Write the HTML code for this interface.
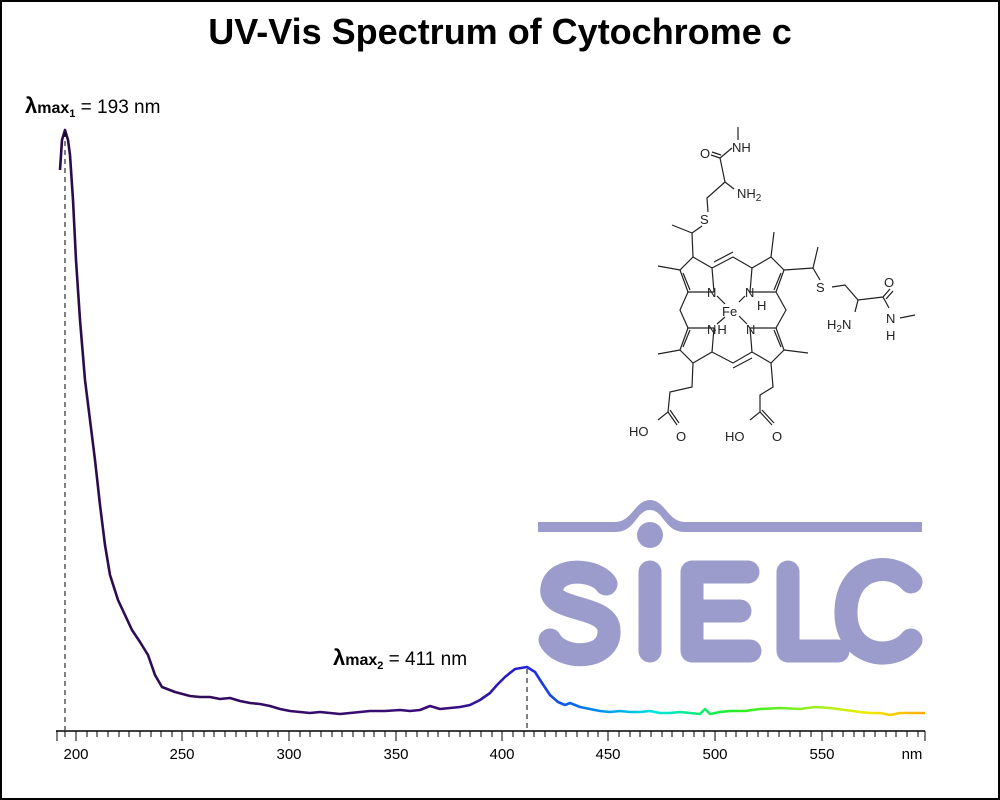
<!DOCTYPE html>
<html><head><meta charset="utf-8"><style>
html,body{margin:0;padding:0;background:#fff;}
svg{display:block;}
</style></head><body>
<svg width="1000" height="800" viewBox="0 0 1000 800" xmlns="http://www.w3.org/2000/svg" font-family="Liberation Sans, sans-serif">
<rect x="1" y="1" width="998" height="798" fill="#fff" stroke="#000" stroke-width="2"/>
<text x="500" y="44" text-anchor="middle" font-size="36" font-weight="bold">UV-Vis Spectrum of Cytochrome c</text>

<g fill="#9b9bcc">
<path d="M538,522 L615,522 C632,522 635,500 650,500 C665,500 668,522 685,522 L922,522 L922,532 L685,532 C664,532 664,510 650,510 C636,510 636,532 615,532 L538,532 Z"/>
<circle cx="650" cy="535" r="13"/>
</g>
<g fill="none" stroke="#9b9bcc" stroke-width="23" stroke-linecap="round" stroke-linejoin="round">
<path d="M606,584 C596,569 556,566 552,588 C547,612 608,604 609,630 C611,661 561,661 550,640"/>
<line x1="650" y1="572" x2="650" y2="651"/>
<path d="M748,572 L692,572 L692,651 L750,651 M692,611 L740,611"/>
<path d="M788,572 L788,651 L838,651"/>
<path d="M911,582 C893,561 848,564 846,610 C844,657 893,663 911,640"/>
</g>

<g stroke="#222" stroke-width="1.2" fill="none">
<polyline points="714,292 712,268 693,257 680,270 688,292 714,292"/>
<line x1="683" y1="273" x2="690" y2="290"/>
<polyline points="750,292 752,268 771,257 784,270 776,292 750,292"/>
<line x1="781" y1="273" x2="774" y2="290"/>
<polyline points="714,328 712,352 693,363 680,350 688,328 714,328"/>
<line x1="683" y1="347" x2="690" y2="330"/>
<polyline points="750,328 752,352 771,363 784,350 776,328 750,328"/>
<line x1="781" y1="347" x2="774" y2="330"/>
<polyline points="712,268 733,257 752,268"/>
<polyline points="712,352 733,363 752,352"/>
<polyline points="688,292 680,310 688,328"/>
<polyline points="776,292 786,310 776,328"/>
<line x1="714" y1="262" x2="733" y2="252"/>
<line x1="733" y1="368" x2="752" y2="358"/>
<line x1="717" y1="296" x2="725" y2="304"/>
<line x1="745" y1="296" x2="739" y2="302"/>
<line x1="717" y1="324" x2="725" y2="317"/>
<line x1="747" y1="324" x2="739" y2="316"/>
<polyline points="693,257 692,233 672,225"/>
<line x1="692" y1="233" x2="702" y2="226"/>
<polyline points="708,212 707,198 725,182 720,158"/>
<line x1="725" y1="182" x2="734" y2="189"/>
<line x1="720" y1="158" x2="711" y2="155"/>
<line x1="721" y1="155" x2="712" y2="152"/>
<line x1="720" y1="158" x2="732" y2="148"/>
<line x1="738" y1="127" x2="738" y2="140"/>
<line x1="680" y1="270" x2="658" y2="266"/>
<line x1="771" y1="257" x2="774" y2="232"/>
<polyline points="784,270 813,268 818,247"/>
<line x1="813" y1="268" x2="820" y2="280"/>
<polyline points="832,287 845,285 858,300 883,297 890,289"/>
<line x1="886" y1="299" x2="893" y2="291"/>
<line x1="858" y1="300" x2="855" y2="312"/>
<line x1="883" y1="297" x2="889" y2="308"/>
<line x1="900" y1="318" x2="915" y2="315"/>
<line x1="680" y1="350" x2="658" y2="354"/>
<polyline points="693,363 692,387 670,392 668,412 658,420"/>
<line x1="668" y1="412" x2="677" y2="425"/>
<line x1="670" y1="410" x2="679" y2="423"/>
<line x1="784" y1="350" x2="808" y2="353"/>
<polyline points="771,363 773,387 760,395 760,412 750,420"/>
<line x1="760" y1="412" x2="772" y2="425"/>
<line x1="762" y1="410" x2="774" y2="423"/>
</g>
<g font-size="13" fill="#222">
<text x="700" y="224">S</text>
<text x="816" y="292">S</text>
<text x="732" y="152">NH</text>
<text x="700" y="158">O</text>
<text x="737" y="198">NH<tspan font-size="10" dy="3">2</tspan></text>
<text x="707" y="297">N</text>
<text x="745" y="297">N</text>
<text x="757" y="310">H</text>
<text x="722" y="316">Fe</text>
<text x="707" y="334">N</text>
<text x="713" y="334">·H</text>
<text x="746" y="334">N</text>
<text x="884" y="287">O</text>
<text x="827" y="329">H<tspan font-size="10" dy="3">2</tspan><tspan dy="-3">N</tspan></text>
<text x="886" y="323">N</text>
<text x="886" y="340">H</text>
<text x="629" y="436">HO</text>
<text x="676" y="441">O</text>
<text x="725" y="441">HO</text>
<text x="772" y="441">O</text>
</g>

<defs>
<linearGradient id="g" gradientUnits="userSpaceOnUse" x1="57" y1="0" x2="925" y2="0">
<stop offset="0" stop-color="#2b0b4a"/>
<stop offset="0.45" stop-color="#3a0c7a"/>
<stop offset="0.54" stop-color="#2222dd"/>
<stop offset="0.62" stop-color="#0088ee"/>
<stop offset="0.69" stop-color="#00e8dd"/>
<stop offset="0.78" stop-color="#22ee22"/>
<stop offset="0.87" stop-color="#99ee22"/>
<stop offset="0.93" stop-color="#eeee00"/>
<stop offset="1" stop-color="#ffaa00"/>
</linearGradient>
</defs>
<polyline fill="none" stroke="url(#g)" stroke-width="2.6" stroke-linejoin="round" points="60,170 62,140 65,130 68,140 70,155 73,200 76,260 80,320 85,380 90,420 95,460 100,505 105,545 110,575 118,600 125,615 132,630 140,642 148,655 155,675 162,687 175,692 190,696 200,697 210,697 220,699 230,698 240,701 250,703 260,704 270,706 280,709 290,711 300,712 310,713 320,712 330,713 340,714 350,713 360,712 370,711 385,711 400,710 410,711 420,710 430,706 440,709 450,708 460,707 470,705 480,700 490,693 497,685 505,677 515,669 527,667 535,672 542,683 550,695 558,702 565,705 570,703 580,707 590,709 600,711 610,712 620,711 630,712 640,712 650,711 660,713 670,713 680,712 690,713 700,714 705,709 710,714 720,712 730,711 745,711 760,709 780,708 800,709 815,707 830,708 845,710 860,712 870,713 880,713 890,715 900,713 925,713"/>

<line x1="65" y1="132" x2="65" y2="730" stroke="#000" stroke-width="1" stroke-dasharray="5,4"/>
<line x1="527" y1="669" x2="527" y2="730" stroke="#000" stroke-width="1" stroke-dasharray="5,4"/>

<line x1="56" y1="731" x2="925" y2="731" stroke="#000" stroke-width="1.5"/>
<g stroke="#000" stroke-width="1">
<line x1="57" y1="731" x2="57" y2="741"/>
<line x1="925" y1="731" x2="925" y2="741"/>
</g>
<g font-size="15" text-anchor="middle" fill="#000">
<text x="76" y="759">200</text>
<text x="182" y="759">250</text>
<text x="289" y="759">300</text>
<text x="396" y="759">350</text>
<text x="502" y="759">400</text>
<text x="608" y="759">450</text>
<text x="715" y="759">500</text>
<text x="822" y="759">550</text>
<text x="912" y="759">nm</text>
</g>
<g stroke="#000" stroke-width="1">
<line x1="65" y1="731" x2="65" y2="737"/><line x1="76" y1="731" x2="76" y2="741"/><line x1="87" y1="731" x2="87" y2="737"/><line x1="97" y1="731" x2="97" y2="737"/><line x1="108" y1="731" x2="108" y2="737"/><line x1="119" y1="731" x2="119" y2="737"/><line x1="129" y1="731" x2="129" y2="737"/><line x1="140" y1="731" x2="140" y2="737"/><line x1="151" y1="731" x2="151" y2="737"/><line x1="161" y1="731" x2="161" y2="737"/><line x1="172" y1="731" x2="172" y2="737"/><line x1="182" y1="731" x2="182" y2="741"/><line x1="193" y1="731" x2="193" y2="737"/><line x1="204" y1="731" x2="204" y2="737"/><line x1="214" y1="731" x2="214" y2="737"/><line x1="225" y1="731" x2="225" y2="737"/><line x1="236" y1="731" x2="236" y2="737"/><line x1="246" y1="731" x2="246" y2="737"/><line x1="257" y1="731" x2="257" y2="737"/><line x1="268" y1="731" x2="268" y2="737"/><line x1="278" y1="731" x2="278" y2="737"/><line x1="289" y1="731" x2="289" y2="741"/><line x1="300" y1="731" x2="300" y2="737"/><line x1="310" y1="731" x2="310" y2="737"/><line x1="321" y1="731" x2="321" y2="737"/><line x1="332" y1="731" x2="332" y2="737"/><line x1="342" y1="731" x2="342" y2="737"/><line x1="353" y1="731" x2="353" y2="737"/><line x1="364" y1="731" x2="364" y2="737"/><line x1="374" y1="731" x2="374" y2="737"/><line x1="385" y1="731" x2="385" y2="737"/><line x1="396" y1="731" x2="396" y2="741"/><line x1="406" y1="731" x2="406" y2="737"/><line x1="417" y1="731" x2="417" y2="737"/><line x1="428" y1="731" x2="428" y2="737"/><line x1="438" y1="731" x2="438" y2="737"/><line x1="449" y1="731" x2="449" y2="737"/><line x1="460" y1="731" x2="460" y2="737"/><line x1="470" y1="731" x2="470" y2="737"/><line x1="481" y1="731" x2="481" y2="737"/><line x1="492" y1="731" x2="492" y2="737"/><line x1="502" y1="731" x2="502" y2="741"/><line x1="513" y1="731" x2="513" y2="737"/><line x1="524" y1="731" x2="524" y2="737"/><line x1="534" y1="731" x2="534" y2="737"/><line x1="545" y1="731" x2="545" y2="737"/><line x1="556" y1="731" x2="556" y2="737"/><line x1="566" y1="731" x2="566" y2="737"/><line x1="577" y1="731" x2="577" y2="737"/><line x1="588" y1="731" x2="588" y2="737"/><line x1="598" y1="731" x2="598" y2="737"/><line x1="608" y1="731" x2="608" y2="741"/><line x1="619" y1="731" x2="619" y2="737"/><line x1="630" y1="731" x2="630" y2="737"/><line x1="640" y1="731" x2="640" y2="737"/><line x1="651" y1="731" x2="651" y2="737"/><line x1="662" y1="731" x2="662" y2="737"/><line x1="672" y1="731" x2="672" y2="737"/><line x1="683" y1="731" x2="683" y2="737"/><line x1="694" y1="731" x2="694" y2="737"/><line x1="704" y1="731" x2="704" y2="737"/><line x1="715" y1="731" x2="715" y2="741"/><line x1="726" y1="731" x2="726" y2="737"/><line x1="736" y1="731" x2="736" y2="737"/><line x1="747" y1="731" x2="747" y2="737"/><line x1="758" y1="731" x2="758" y2="737"/><line x1="768" y1="731" x2="768" y2="737"/><line x1="779" y1="731" x2="779" y2="737"/><line x1="790" y1="731" x2="790" y2="737"/><line x1="800" y1="731" x2="800" y2="737"/><line x1="811" y1="731" x2="811" y2="737"/><line x1="822" y1="731" x2="822" y2="741"/><line x1="832" y1="731" x2="832" y2="737"/><line x1="843" y1="731" x2="843" y2="737"/><line x1="854" y1="731" x2="854" y2="737"/><line x1="864" y1="731" x2="864" y2="737"/><line x1="875" y1="731" x2="875" y2="737"/><line x1="886" y1="731" x2="886" y2="737"/><line x1="896" y1="731" x2="896" y2="737"/><line x1="907" y1="731" x2="907" y2="737"/><line x1="918" y1="731" x2="918" y2="737"/>
</g>

<text x="25" y="113" font-size="19" fill="#000"><tspan font-weight="bold" font-size="22">λ</tspan><tspan font-weight="bold" font-size="16">max</tspan><tspan font-weight="bold" font-size="11" dy="4">1</tspan><tspan dy="-4"> = 193 nm</tspan></text>
<text x="333" y="665" font-size="19" fill="#000"><tspan font-weight="bold" font-size="22">λ</tspan><tspan font-weight="bold" font-size="16">max</tspan><tspan font-weight="bold" font-size="11" dy="4">2</tspan><tspan dy="-4"> = 411 nm</tspan></text>
</svg>
</body></html>
